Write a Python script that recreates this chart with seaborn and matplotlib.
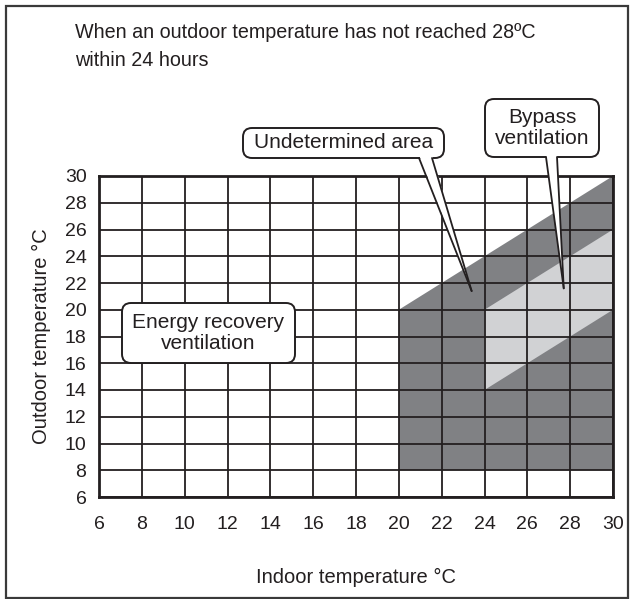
import matplotlib
matplotlib.use("Agg")
import matplotlib.pyplot as plt
import matplotlib.transforms as mtransforms
from matplotlib.patches import FancyBboxPatch, Polygon, Rectangle
import seaborn as sns
import pandas as pd

# Axis ranges and tick labels
x_ticks = [6, 8, 10, 12, 14, 16, 18, 20, 22, 24, 26, 28, 30]
y_ticks = [6, 8, 10, 12, 14, 16, 18, 20, 22, 24, 26, 28, 30]

# Operating zones (indoor temperature, outdoor temperature)
undetermined_x = [20, 30, 30, 20]
undetermined_y = [8, 8, 30, 20]
bypass_x = [24, 30, 30, 24]
bypass_y = [14, 20, 26, 20]

# Points the callouts refer to
undetermined_tip = (23.4, 21.4)
bypass_tip = (27.7, 21.6)

DARK = "#808184"
LIGHT = "#d1d2d4"
INK = "#231f20"

sns.set_theme(style="white")
plt.rcParams["font.family"] = ["Liberation Sans", "DejaVu Sans"]

W, H = 634, 599
fig = plt.figure(figsize=(W / 100, H / 100), dpi=100)
ax = fig.add_axes([99 / W, 1 - 497 / H, (613 - 99) / W, (497 - 176) / H])

zones = pd.DataFrame({
    "zone": ["undetermined"] * 4 + ["bypass"] * 4,
    "indoor": undetermined_x + bypass_x,
    "outdoor": undetermined_y + bypass_y,
})
for zone, color in [("undetermined", DARK), ("bypass", LIGHT)]:
    d = zones[zones["zone"] == zone]
    ax.fill(d["indoor"], d["outdoor"], color=color, lw=0, zorder=1)
    sns.lineplot(data=d, x="indoor", y="outdoor", ax=ax, lw=0, sort=False,
                 estimator=None, legend=False)

ax.set_xlim(6, 30)
ax.set_ylim(6, 30)
ax.set_xticks(x_ticks)
ax.set_yticks(y_ticks)
ax.set_xticklabels([str(v) for v in x_ticks], fontsize=14, color=INK)
ax.set_yticklabels([str(v) for v in y_ticks], fontsize=14, color=INK)
ax.tick_params(length=0)
ax.tick_params(axis="x", pad=14)
ax.tick_params(axis="y", pad=9)
ax.set_axisbelow(False)
ax.grid(True, color=INK, lw=1.3, zorder=2)
for s in ax.spines.values():
    s.set_color(INK)
    s.set_linewidth(2.0)
    s.set_zorder(3)

ax.set_xlabel("Indoor temperature \u00b0C", fontsize=14.5, labelpad=25, color=INK)
ax.set_ylabel("Outdoor temperature \u00b0C", fontsize=14.5, labelpad=10, color=INK)

ident = mtransforms.IdentityTransform()


def px(x, y):
    """Image pixel (origin top-left) to display coordinates."""
    return (x, H - y)


# Outer frame
fig.patches.append(Rectangle(px(6, 598), 622, 592, transform=ident, fill=False,
                             edgecolor="#3a3a3a", lw=1.6, zorder=0))

fig.text(75 / W, 1 - 32 / H, "When an outdoor temperature has not reached 28\u00baC",
         fontsize=14.2, va="center", ha="left", color=INK)
fig.text(75 / W, 1 - 60 / H, "within 24 hours",
         fontsize=14.2, va="center", ha="left", color=INK)


def callout(x0, y0, x1, y1, text, base=None, tip=None):
    box = FancyBboxPatch(px(x0, y1), x1 - x0, y1 - y0, transform=ident,
                         boxstyle="round,pad=0,rounding_size=9",
                         facecolor="white", edgecolor=INK, lw=1.4,
                         zorder=10, clip_on=False)
    fig.patches.append(box)
    if base is not None:
        tx, ty = ax.transData.transform(tip)
        bl, br = base
        wedge = Polygon([px(bl, y1 - 3), px(br, y1 - 3), (tx, ty)], closed=True,
                        transform=ident, facecolor="white", edgecolor="none",
                        zorder=11, clip_on=False)
        fig.patches.append(wedge)
        for bx in (bl, br):
            fig.lines.append(plt.Line2D([px(bx, y1)[0], tx], [px(bx, y1)[1], ty],
                                        transform=ident, color=INK, lw=1.3,
                                        zorder=12))
    fig.text((x0 + x1) / 2 / W, 1 - (y0 + y1) / 2 / H, text, ha="center",
             va="center", fontsize=15, color=INK, zorder=13,
             linespacing=1.1)


callout(243, 128, 444, 158, "Undetermined area", base=(419, 432), tip=undetermined_tip)
callout(485, 99, 599, 157, "Bypass\nventilation", base=(546, 557), tip=bypass_tip)
callout(122, 303, 295, 363, "Energy recovery\nventilation")

fig.savefig("out.png", dpi=100, facecolor="white")
